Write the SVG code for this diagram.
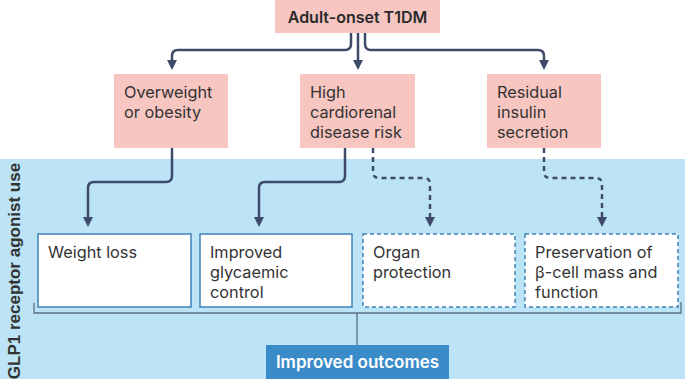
<svg xmlns="http://www.w3.org/2000/svg" width="685" height="379" viewBox="0 0 685 379">
<defs>
<marker id="ah" viewBox="0 0 10 10" markerWidth="10" markerHeight="10" markerUnits="userSpaceOnUse" refX="3" refY="5" orient="auto">
<path d="M0,0 L10,5 L0,10 z" fill="#3d4b68"/>
</marker>
<style>
.pink{fill:#f7c6c1}
.wbox{fill:#ffffff;stroke:#3e83b5;stroke-width:1.5}
.dash{stroke-dasharray:4 3}
.t{font-family:Inter,"Open Sans",sans-serif;font-size:16.3px;fill:#333333}
.tb{font-family:Inter,"Open Sans",sans-serif;font-size:16px;font-weight:600;fill:#2a2a2a}
.side{font-family:"Liberation Sans",Arial,sans-serif;font-weight:700;font-size:17px;fill:#333333}
.arr{fill:none;stroke:#3d4b68;stroke-width:2.5;marker-end:url(#ah)}
.arrd{stroke-dasharray:5 4}
.br{fill:none;stroke:#5a6f82;stroke-width:1.3}
</style>
</defs>
<rect x="0" y="159" width="685" height="220" fill="#bce3f6"/>
<text class="side" transform="translate(20,271) rotate(-90)" text-anchor="middle">GLP1 receptor agonist use</text>

<g id="top">
<rect class="pink" x="275" y="0" width="165" height="33"/>
<text class="tb" x="357.5" y="23" text-anchor="middle">Adult-onset T1DM</text>
</g>
<g id="overweight">
<rect class="pink" x="114" y="74" width="114" height="74"/>
<text class="t" x="124" y="98">Overweight<tspan x="124" dy="20">or obesity</tspan></text>
</g>
<g id="cardio">
<rect class="pink" x="300" y="74" width="115" height="74"/>
<text class="t" x="310" y="98">High<tspan x="310" dy="20">cardiorenal</tspan><tspan x="310" dy="20">disease risk</tspan></text>
</g>
<g id="residual">
<rect class="pink" x="487" y="74" width="114" height="74"/>
<text class="t" x="497" y="98">Residual<tspan x="497" dy="20">insulin</tspan><tspan x="497" dy="20">secretion</tspan></text>
</g>

<g id="weight">
<rect class="wbox" x="38" y="234" width="153" height="73"/>
<text class="t" x="48" y="258">Weight loss</text>
</g>
<g id="glyc">
<rect class="wbox" x="200" y="234" width="152" height="73"/>
<text class="t" x="210" y="258">Improved<tspan x="210" dy="20">glycaemic</tspan><tspan x="210" dy="20">control</tspan></text>
</g>
<g id="organ">
<rect class="wbox dash" x="363" y="234" width="152" height="73"/>
<text class="t" x="373" y="258">Organ<tspan x="373" dy="20">protection</tspan></text>
</g>
<g id="beta">
<rect class="wbox dash" x="525" y="234" width="153" height="73"/>
<text class="t" x="535" y="258">Preservation of<tspan x="535" dy="20">β-cell mass and</tspan><tspan x="535" dy="20">function</tspan></text>
</g>
<g id="outcomes">
<rect x="266" y="345" width="183" height="34" fill="#3b8bc9"/>
<text class="tb" x="357.5" y="368" text-anchor="middle" style="fill:#ffffff;font-size:17px">Improved outcomes</text>
</g>

<g id="connectors">
<path class="arr" d="M351,33 V44 Q351,50 345,50 H178 Q172,50 172,56 V63"/>
<path class="arr" d="M358,33 V63"/>
<path class="arr" d="M365,33 V44 Q365,50 371,50 H538 Q544,50 544,56 V63"/>
<path class="arr" d="M172,148 V176 Q172,182 166,182 H94 Q88,182 88,188 V220"/>
<path class="arr" d="M345,148 V176 Q345,182 339,182 H265 Q259,182 259,188 V220"/>
<path class="arr arrd" d="M373,148 V172 Q373,178 379,178 H424 Q430,178 430,184 V220"/>
<path class="arr arrd" d="M544,148 V172 Q544,178 550,178 H596 Q602,178 602,184 V220"/>
<path class="br" d="M34,303 V313 H681 V302"/>
<path class="br" d="M357,313 V345"/>
</g>
</svg>
